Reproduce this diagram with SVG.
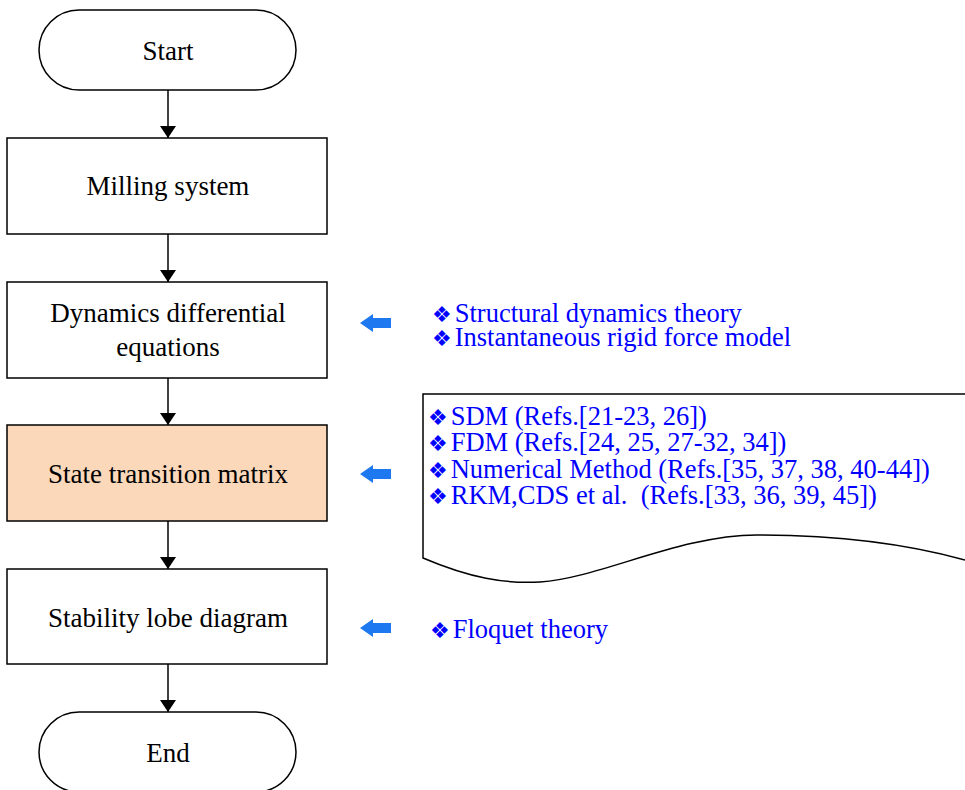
<svg xmlns="http://www.w3.org/2000/svg" width="965" height="790" viewBox="0 0 965 790">
<style>
.box{fill:#fff;stroke:#000;stroke-width:1.5}
.lbl{font-family:"Liberation Serif","Times New Roman",serif;font-size:27px;fill:#000;text-anchor:middle}
.ref{font-family:"Liberation Serif","Times New Roman",serif;font-size:26.5px;fill:#0000FF}
.dm{font-family:"DejaVu Sans",sans-serif;font-size:22px}
.conn{stroke:#000;stroke-width:1.5;fill:none}
.barrow{fill:#1E78F0}
</style>
<defs>
<marker id="ah" markerWidth="12" markerHeight="16" refX="12" refY="8" orient="auto" markerUnits="userSpaceOnUse" viewBox="0 0 12 16">
<path d="M0,0 L12,8 L0,16 Z" fill="#000"/>
</marker>
<path id="blueArrow" d="M0,0 L13,-9 L13,-5 L31,-5 L31,5 L13,5 L13,9 Z"/>
</defs>
<rect width="965" height="790" fill="#fff"/>
<g id="connectors">
<line class="conn" x1="168" y1="90" x2="168" y2="138" marker-end="url(#ah)"/>
<line class="conn" x1="168" y1="234" x2="168" y2="282" marker-end="url(#ah)"/>
<line class="conn" x1="168" y1="378" x2="168" y2="425" marker-end="url(#ah)"/>
<line class="conn" x1="168" y1="521" x2="168" y2="569" marker-end="url(#ah)"/>
<line class="conn" x1="168" y1="664" x2="168" y2="712" marker-end="url(#ah)"/>
</g>
<g id="start">
<rect class="box" x="39" y="10" width="257" height="80" rx="40" ry="40"/>
<text class="lbl" x="168" y="60">Start</text>
</g>
<g id="milling">
<rect class="box" x="7" y="138" width="320" height="96"/>
<text class="lbl" x="168" y="195">Milling system</text>
</g>
<g id="dynamics">
<rect class="box" x="7" y="282" width="320" height="96"/>
<text class="lbl" x="168" y="322">Dynamics differential</text>
<text class="lbl" x="168" y="356">equations</text>
</g>
<g id="stm">
<rect class="box" x="7" y="425" width="320" height="96" style="fill:#FBD8BA"/>
<text class="lbl" x="168" y="483">State transition matrix</text>
</g>
<g id="stability">
<rect class="box" x="7" y="569" width="320" height="95"/>
<text class="lbl" x="168" y="627">Stability lobe diagram</text>
</g>
<g id="end">
<rect class="box" x="39" y="712" width="257" height="80" rx="40" ry="40"/>
<text class="lbl" x="168" y="762">End</text>
</g>
<g id="note1">
<use href="#blueArrow" class="barrow" x="360" y="323"/>
<text class="ref" x="432" y="322"><tspan class="dm">❖</tspan><tspan dx="3">Structural dynamics theory</tspan></text>
<text class="ref" x="432" y="346"><tspan class="dm">❖</tspan><tspan dx="3">Instantaneous rigid force model</tspan></text>
</g>
<g id="note2">
<use href="#blueArrow" class="barrow" x="360" y="474"/>
<path class="box" d="M965,394 H423 V558 C470,578 505,584 540,582 C600,578 680,535 757,535 C830,535 900,542 965,560"/>
<text class="ref" x="428" y="425"><tspan class="dm">❖</tspan><tspan dx="3">SDM (Refs.[21-23, 26])</tspan></text>
<text class="ref" x="428" y="451"><tspan class="dm">❖</tspan><tspan dx="3">FDM (Refs.[24, 25, 27-32, 34])</tspan></text>
<text class="ref" x="428" y="478"><tspan class="dm">❖</tspan><tspan dx="3">Numerical Method (Refs.[35, 37, 38, 40-44])</tspan></text>
<text class="ref" x="428" y="504" xml:space="preserve"><tspan class="dm">❖</tspan><tspan dx="3">RKM,CDS et al.  (Refs.[33, 36, 39, 45])</tspan></text>
</g>
<g id="note3">
<use href="#blueArrow" class="barrow" x="360" y="628"/>
<text class="ref" x="430" y="638"><tspan class="dm">❖</tspan><tspan dx="3">Floquet theory</tspan></text>
</g>
</svg>
